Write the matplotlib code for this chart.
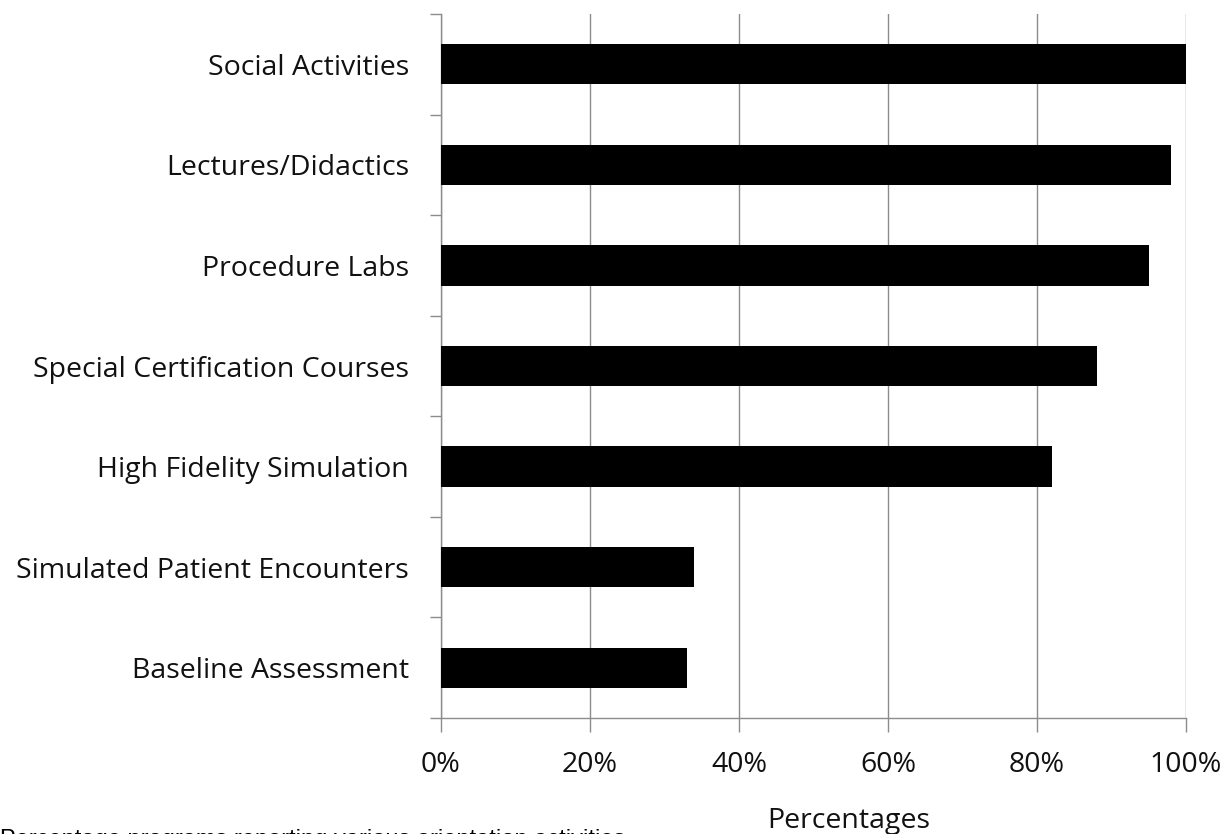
import matplotlib
matplotlib.use("Agg")
import matplotlib.pyplot as plt
from matplotlib.ticker import FixedLocator, FuncFormatter

categories = ["Baseline Assessment", "Simulated Patient Encounters", "High Fidelity Simulation",
              "Special Certification Courses", "Procedure Labs", "Lectures/Didactics", "Social Activities"]
values = [33, 34, 82, 88, 95, 98, 100]
xticks = [0, 20, 40, 60, 80, 100]

W, H = 1232, 834
fig = plt.figure(figsize=(W / 100, H / 100), dpi=100)
ax = fig.add_axes([441 / W, 1 - 718 / H, (1186 - 441) / W, (718 - 14) / H])

grey = "#8c8c8c"
n = len(categories)
ax.barh(range(n), values, height=0.4, color="black", zorder=3)
ax.set_xlim(0, 100)
ax.set_ylim(-0.5, n - 0.5)

ax.xaxis.set_major_locator(FixedLocator(xticks))
ax.xaxis.set_major_formatter(FuncFormatter(lambda v, p: f"{int(v)}%"))
ax.grid(axis="x", color=grey, linewidth=1, zorder=0)
ax.set_yticks(range(n))
ax.set_yticklabels(categories)
ax.set_yticks([i - 0.5 for i in range(n + 1)], minor=True)
ax.tick_params(axis="y", which="major", length=0, pad=23, labelsize=20.5, labelcolor="#111111")
ax.tick_params(axis="y", which="minor", length=8, color=grey, width=1)
ax.tick_params(axis="x", length=10, color=grey, width=1, pad=14, labelsize=20.5, labelcolor="#111111")
for lab in ax.get_yticklabels() + ax.get_xticklabels():
    lab.set_family("Open Sans")

for s in ["top", "right"]:
    ax.spines[s].set_visible(False)
for s in ["left", "bottom"]:
    ax.spines[s].set_color(grey)
    ax.spines[s].set_linewidth(1)

fig.text(849 / W, 1 - 828 / H, "Percentages", ha="center", va="baseline", fontsize=20.5,
         family="Open Sans", color="#111111")
fig.text(0.0, 1 - 829 / H, "Percentage programs reporting various orientation activities",
         ha="left", va="top", fontsize=17, family="Liberation Sans")

fig.savefig("out.png", dpi=100, facecolor="white")
